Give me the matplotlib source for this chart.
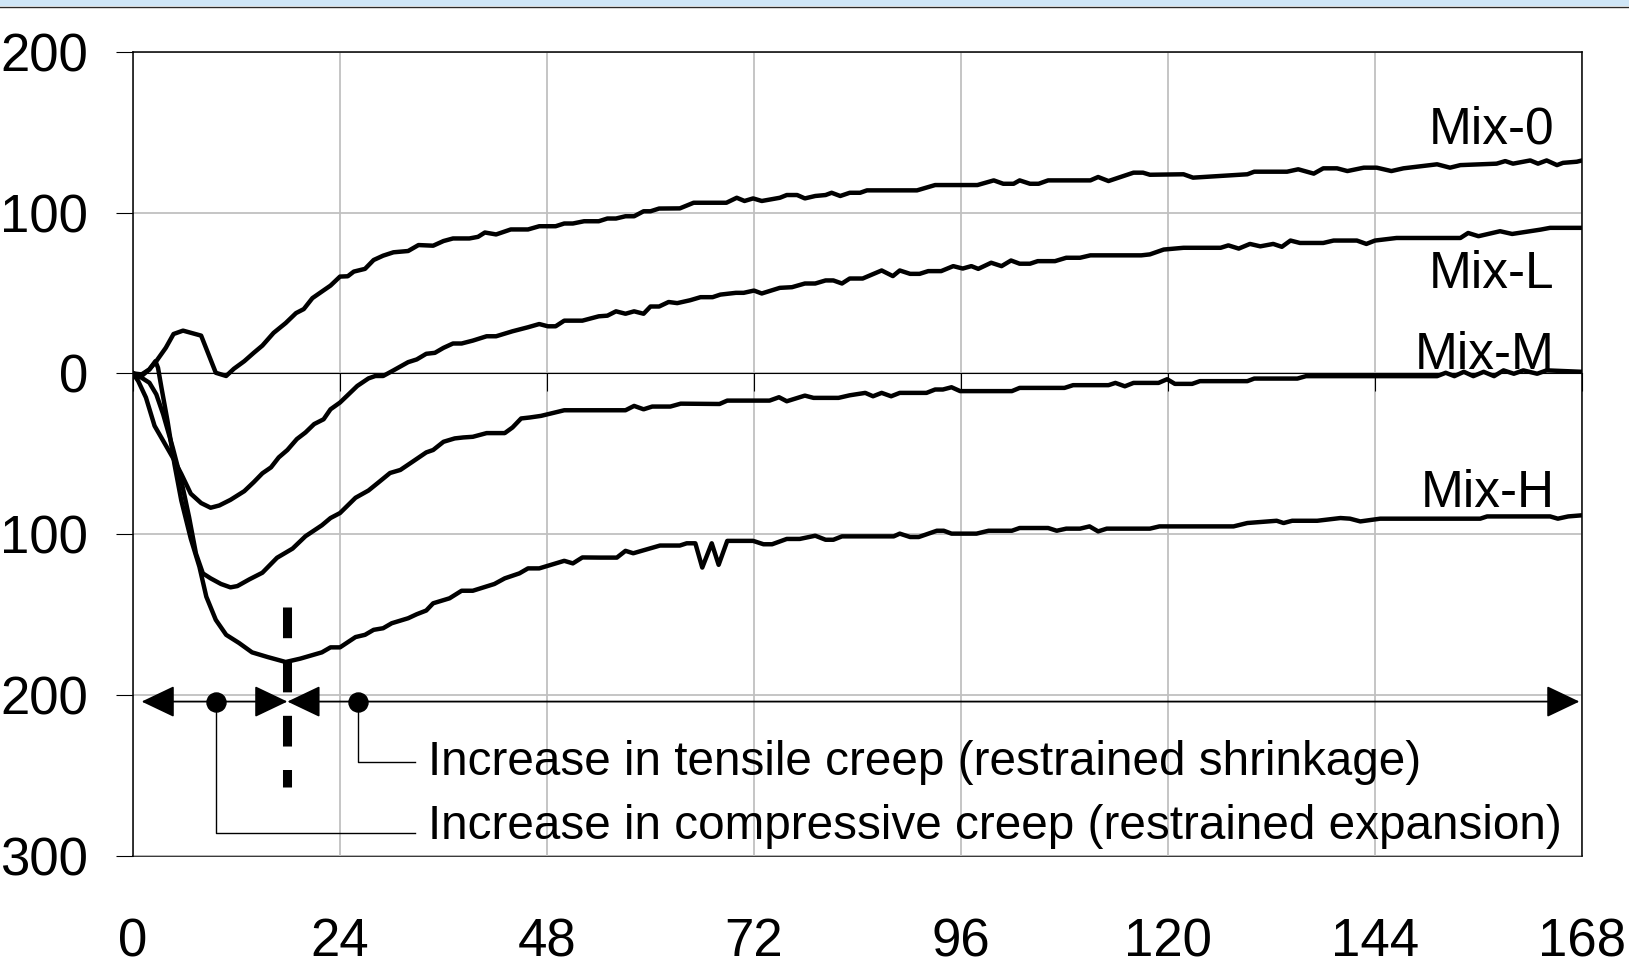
import matplotlib
matplotlib.use("Agg")
import matplotlib.pyplot as plt
from matplotlib.patches import Rectangle
from matplotlib.lines import Line2D

plt.rcParams['font.family'] = ['Liberation Sans', 'DejaVu Sans']

# ---------------- data (hours, strain) ----------------
mix0 = [(0,0),(1.0,-0.6),(1.9,2.5),(2.7,7.6),(3.8,15.9),(4.7,24.5),(5.8,26.6),(7.9,23.5),(9.6,0.4),(10.8,-1.6),
        (11.7,2.9),(12.9,7.6),(14.0,12.8),(15.0,17.3),(16.3,25.2),(17.7,31.3),(18.9,37.5),(19.8,40.0),(20.8,46.8),
        (21.9,50.9),(22.9,54.6),(24.0,60.2),(24.9,60.4),(25.6,63.3),(26.9,65.0),(27.9,70.5),(29.0,73.2),(30.2,75.3),
        (31.9,76.1),(33.1,79.8),(34.8,79.4),(36.0,82.3),(37.1,83.9),(39.0,83.9),(40.0,84.9),(40.8,87.6),(42.1,86.4),
        (43.8,89.5),(45.8,89.5),(47.1,91.5),(49.0,91.5),(50.0,93.2),(51.0,93.2),(52.3,94.6),(54.0,94.6),(55.0,96.3),
        (56.0,96.3),(57.1,97.7),(58.1,97.7),(59.2,100.8),(60.0,100.8),(61.0,102.5),(63.4,102.6),(65.0,106.1),
        (68.8,106.1),(70.0,109.2),(70.9,107.2),(71.9,108.8),(72.9,107.2),(75.0,109.2),(75.8,110.9),(77.0,110.9),
        (77.9,108.8),(79.1,110.3),(80.3,110.9),(81.0,112.3),(82.0,110.3),(83.1,112.3),(84.3,112.3),(85.1,113.8),
        (90.9,113.8),(93.0,117.1),(97.9,117.1),(99.8,120.0),(100.9,117.9),(102.1,117.9),(102.8,120.0),(104.0,117.9),
        (105.0,117.9),(106.1,120.0),(111.0,120.0),(111.9,122.1),(113.1,119.6),(116.0,124.8),(117.1,124.8),
        (117.9,123.5),(121.8,123.8),(122.9,121.7),(129.2,123.8),(130.0,125.4),(133.8,125.4),(135.1,126.9),
        (136.9,124.2),(138.0,127.5),(139.6,127.5),(140.8,125.8),(142.7,127.9),(144.2,127.9),(145.9,125.8),
        (147.3,127.5),(151.2,130.0),(152.7,127.9),(153.9,129.5),(158.1,130.4),(159.1,132.0),(160.0,130.4),
        (162.0,132.4),(162.9,130.4),(163.9,132.4),(165.1,129.5),(165.8,130.9),(167.4,131.6),(168.0,132.4)]

mixL = [(0,0),(0.6,-4.7),(1.5,-15),(2.5,-32.6),(3.5,-41.9),(4.6,-52.2),(5.6,-62.5),(6.7,-74.8),(7.9,-80.6),
        (9.0,-83.5),(10.0,-82.1),(11.3,-78.6),(12.9,-73.2),(14.0,-67.6),(15.0,-62.1),(16.0,-58.4),(16.9,-52.2),
        (17.9,-47.6),(19.0,-40.8),(20.0,-36.7),(21.0,-31.5),(22.1,-28.5),(22.9,-22.3),(24.0,-18.1),(24.8,-14.0),
        (26.0,-7.8),(27.3,-3.1),(28.1,-1.6),(29.0,-1.6),(30.2,1.9),(31.9,7.0),(32.9,8.7),(34.0,12.2),(35.0,12.8),
        (36.0,15.9),(37.1,18.6),(38.1,18.6),(39.4,20.4),(41.0,23.1),(42.1,23.1),(44.0,26.2),(45.8,28.7),(47.1,30.7),
        (48.1,29.3),(49.0,29.3),(50.0,32.8),(52.1,32.8),(54.0,35.5),(55.0,35.9),(56.0,38.6),(57.1,37.1),(58.1,38.6),
        (59.2,37.1),(60.0,41.6),(61.0,41.6),(62.1,44.4),(63.1,43.7),(64.6,45.5),(65.8,47.4),(67.2,47.4),(68.1,49.0),
        (69.9,50.1),(70.8,50.1),(72.0,51.5),(72.9,49.7),(75.0,53.2),(76.4,53.6),(77.9,55.9),(79.1,55.9),(80.3,57.8),
        (81.2,57.8),(82.2,55.9),(83.1,59.0),(84.6,59.0),(86.8,64.0),(88.1,60.5),(88.9,64.0),(90.1,61.9),(91.2,61.9),
        (92.2,63.6),(93.7,63.6),(95.1,66.7),(96.2,65.2),(97.2,66.7),(98.0,65.0),(99.5,68.8),(100.7,66.7),
        (101.8,70.2),(102.8,68.2),(104.0,68.2),(104.9,69.8),(106.9,69.8),(108.2,71.9),(109.8,71.9),(111.0,73.4),
        (116.9,73.4),(117.9,74.0),(119.5,77.0),(121.8,78.1),(126.1,78.1),(127.0,79.6),(128.2,77.6),(129.5,80.5),
        (130.7,79.0),(132.2,80.5),(133.2,78.7),(134.2,82.6),(135.3,81.1),(138.0,81.1),(139.2,82.6),(141.9,82.6),
        (143.0,80.5),(144.0,82.6),(146.5,84.2),(153.9,84.2),(154.8,87.3),(156.0,85.3),(158.5,88.4),(159.9,86.7),
        (163.2,89.4),(164.3,90.5),(168.0,90.5)]

mixM = [(0,0),(1.0,-2.7),(1.9,-5.8),(2.7,-13),(3.5,-25.4),(4.6,-46),(5.6,-66.6),(6.5,-89.3),(7.3,-112),
        (8.1,-124.3),(9.0,-127.4),(10.2,-130.9),(11.3,-133),(12.1,-132.2),(13.5,-128),(15.0,-123.9),(16.7,-114.6),
        (18.5,-108.9),(20.0,-101.2),(21.9,-94.4),(22.9,-89.9),(24.0,-86.8),(25.8,-77.3),(27.3,-72.8),(28.5,-67.6),
        (29.8,-61.9),(31.0,-60),(32.3,-55.3),(34.0,-49.1),(34.8,-47.6),(36.0,-42.5),(37.3,-40.4),(38.3,-39.8),
        (39.4,-39.4),(41.0,-37.1),(43.1,-37.1),(44.0,-33.6),(45.0,-28),(46.0,-27.4),(47.3,-26.4),(50.0,-22.9),
        (57.1,-22.9),(58.1,-20.2),(59.2,-22.3),(60.2,-20.6),(62.3,-20.6),(63.5,-18.8),(68.0,-19.0),(68.9,-16.9),
        (73.8,-16.9),(74.9,-14.8),(75.8,-17.3),(77.9,-13.8),(78.9,-15.2),(81.8,-15.2),(83.1,-13.6),(84.9,-12.1),
        (85.8,-14.2),(86.8,-12.1),(87.9,-14.2),(88.9,-12.1),(92.0,-12.1),(93.0,-10.0),(93.9,-10.0),(94.9,-8.6),
        (95.9,-11.0),(101.9,-11.0),(102.8,-9.0),(108.0,-9.0),(109.0,-7.3),(113.1,-7.3),(113.9,-5.9),(115.0,-8.0),
        (116.0,-5.9),(118.9,-5.9),(119.9,-3.6),(120.8,-6.5),(122.8,-6.5),(123.7,-4.8),(129.2,-4.8),(130.0,-3.2),
        (135.0,-3.2),(136.0,-1.7),(151.2,-1.7),(152.2,0.4),(153.2,-1.7),(154.3,1.0),(155.4,-1.7),(156.6,1.0),
        (157.8,-1.7),(158.9,1.9),(160.1,-0.2),(161.2,1.9),(162.8,-0.2),(163.9,1.9),(168.0,1.0)]

mixH = [(0,0),(1.0,-1.6),(1.9,2.5),(2.6,7.6),(2.9,3.5),(3.3,-8.9),(4.0,-29.5),(4.8,-56.3),(5.6,-79),
        (6.7,-102.7),(7.7,-120.2),(8.5,-138.8),(9.6,-153.2),(10.8,-162.5),(12.3,-167.6),(13.8,-173.4),
        (15.6,-176.3),(17.7,-179.4),(19.4,-177.3),(21.9,-173.4),(22.9,-170.3),(24.0,-170.3),(25.8,-163.9),
        (26.9,-162.5),(27.9,-159.4),(29.0,-158.4),(30.0,-155.3),(31.9,-152.2),(32.9,-149.7),(34.0,-147.4),
        (34.8,-142.9),(36.7,-139.8),(38.1,-135.1),(39.4,-135.1),(41.9,-130.9),(43.1,-127.4),(44.8,-124.3),
        (45.8,-121.2),(47.1,-121.2),(50.0,-116.5),(51.0,-118.1),(52.1,-114.4),(54.2,-114.5),(56.1,-114.5),
        (57.1,-110.3),(58.0,-111.8),(61.1,-107.0),(63.4,-107.0),(64.2,-105.6),(65.2,-105.6),(66.0,-120.7),
        (67.1,-105.6),(67.9,-119.0),(68.9,-104.1),(71.9,-104.1),(73.1,-106.2),(74.1,-106.2),(75.8,-102.9),
        (77.3,-102.9),(79.1,-100.9),(80.3,-103.4),(81.2,-103.4),(82.2,-101.3),(88.2,-101.3),(88.9,-99.6),
        (90.1,-101.7),(91.1,-101.7),(93.2,-97.8),(94.0,-97.8),(94.9,-99.6),(97.8,-99.6),(99.2,-97.8),
        (101.9,-97.8),(102.8,-96.1),(106.1,-96.1),(107.1,-97.8),(108.2,-96.5),(109.8,-96.5),(110.9,-95.1),
        (111.9,-98.2),(112.9,-96.5),(117.9,-96.5),(119.0,-95.1),(127.6,-95.1),(129.2,-93.0),(132.6,-91.6),
        (133.4,-93.0),(134.4,-91.6),(137.3,-91.6),(140.0,-89.9),(141.1,-90.3),(142.3,-92.0),(144.6,-90.3),
        (156.2,-90.3),(157.0,-88.9),(164.3,-88.9),(165.2,-90.3),(166.4,-88.9),(168.0,-88.2)]

series_names = ["Mix-0", "Mix-L", "Mix-M", "Mix-H"]
series_data = [mix0, mixL, mixM, mixH]
label_values = [143, 53, 3, -83]          # baseline of each series label

x_ticks = [0, 24, 48, 72, 96, 120, 144, 168]
x_tick_labels = ["0", "24", "48", "72", "96", "120", "144", "168"]
y_ticks = [-300, -200, -100, 0, 100, 200]
y_tick_labels = ["300", "200", "100", "0", "100", "200"]

# annotation (phase) markers
phase_boundary = 17.9
arrow_level = -204
arrow_left, arrow_right = 1.0, 167.7
dot_compressive, dot_tensile = 9.6, 26.1
note_tensile = "Increase in tensile creep (restrained shrinkage)"
note_compressive = "Increase in compressive creep (restrained expansion)"

# ---------------- figure ----------------
W, H = 1629, 967
fig = plt.figure(figsize=(W / 100, H / 100), dpi=100)
fig.patch.set_facecolor('white')
fig.patches.append(Rectangle((0, 1 - 6 / H), 1, 6 / H, transform=fig.transFigure,
                             facecolor='#cfe6f7', edgecolor='none', zorder=0))
fig.lines.append(Line2D([0, 1], [1 - 6.5 / H, 1 - 6.5 / H], transform=fig.transFigure,
                        color='#2a2a2a', lw=1.0))

left, right, top, bottom = 133, 1582, 51.7, 856
ax = fig.add_axes([left / W, 1 - bottom / H, (right - left) / W, (bottom - top) / H])
ax.set_xlim(0, 168)
ax.set_ylim(-300, 200)
ax.set_axisbelow(True)
ax.grid(True, color='#c0c0c0', lw=1.3)

for name, data, lv in zip(series_names, series_data, label_values):
    t = [p[0] for p in data]
    v = [p[1] for p in data]
    ax.plot(t, v, color='black', lw=3.2, zorder=3, solid_joinstyle='round')
    ax.text(164.8, lv, name, ha='right', va='baseline', fontsize=37, zorder=4)

# axes styling
for s in ['left', 'top', 'right']:
    ax.spines[s].set_color('black')
    ax.spines[s].set_linewidth(1.1)
ax.spines['bottom'].set_position(('data', 0))
ax.spines['bottom'].set_linewidth(0.8)
ax.spines['bottom'].set_color('black')
ax.set_xticks(x_ticks)
ax.tick_params(axis='x', direction='out', length=13, width=0.8, labelbottom=False)
ax.set_yticks(y_ticks, y_tick_labels)
ax.tick_params(axis='y', direction='out', length=12.5, width=0.8, pad=20, labelsize=38)

sec = ax.secondary_xaxis(0.0)
sec.set_xticks(x_ticks, x_tick_labels)
sec.tick_params(length=0, pad=44, labelsize=38)
sec.spines['bottom'].set_linewidth(1.1)
sec.spines['bottom'].set_color('black')

# phase arrows
head = 'head_length=1.05,head_width=0.5'
for a, b in [(arrow_left, phase_boundary), (phase_boundary, arrow_right)]:
    ax.annotate('', xy=(a, arrow_level), xytext=(b, arrow_level),
                arrowprops=dict(arrowstyle='<|-|>,' + head, color='black', lw=1.3,
                                shrinkA=0, shrinkB=0, mutation_scale=20), zorder=5)
ax.plot([phase_boundary, phase_boundary], [-145, -257], color='black', lw=6.5,
        dashes=(3.4, 2.6), zorder=6)
ax.plot([dot_compressive, dot_tensile], [arrow_level, arrow_level], 'o', color='black',
        ms=13.7, zorder=6)

# leaders and notes
leader_end, note_x = 32.7, 34.2
ax.plot([dot_tensile, dot_tensile, leader_end], [arrow_level, -241.4, -241.4], color='black', lw=1.0, zorder=5)
ax.plot([dot_compressive, dot_compressive, leader_end], [arrow_level, -285.4, -285.4], color='black', lw=1.0, zorder=5)
ax.text(note_x, -249.5, note_tensile, ha='left', va='baseline', fontsize=34.3, zorder=6)
ax.text(note_x, -289.4, note_compressive, ha='left', va='baseline', fontsize=34.3, zorder=6)

fig.savefig('out.png', dpi=100)
